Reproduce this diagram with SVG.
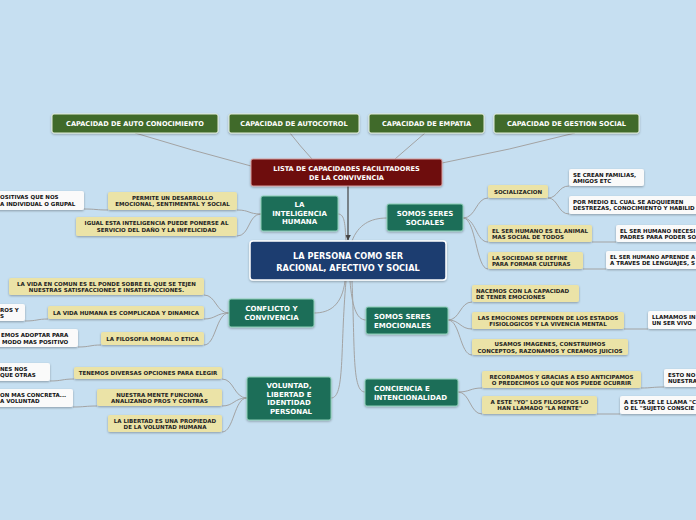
<svg xmlns="http://www.w3.org/2000/svg" width="696" height="520" viewBox="0 0 696 520">
<defs>
<filter id="sh" x="-10%" y="-20%" width="120%" height="150%">
<feDropShadow dx="0" dy="1" stdDeviation="0.8" flood-color="#000" flood-opacity="0.3"/>
</filter>
<marker id="arr" viewBox="0 0 10 10" refX="9" refY="5" markerWidth="5" markerHeight="5" orient="auto">
<path d="M0,0 L10,5 L0,10 z" fill="#444"/>
</marker>
<style>
text{font-family:"DejaVu Sans","Verdana",sans-serif;font-weight:bold;}
.top rect{fill:#3f6b2b;stroke:#e6efdc;stroke-width:1;filter:url(#sh);}
.top text{fill:#fff;font-size:6.6px;text-anchor:middle;}
.red rect{fill:#6e0b0b;stroke:#d9a0a0;stroke-width:1;filter:url(#sh);}
.red text{fill:#fff;font-size:6.6px;text-anchor:middle;}
.ctr rect{fill:#1b3e6f;stroke:#fff;stroke-width:1.5;filter:url(#sh);}
.ctr text{fill:#fff;font-size:8.2px;text-anchor:middle;}
.br rect{fill:#1c6e59;stroke:#8fd0b8;stroke-width:1;filter:url(#sh);}
.br text{fill:#fff;font-size:7px;text-anchor:middle;}
.br text.l{text-anchor:start;}
.lf rect{fill:#ebe3a7;filter:url(#sh);}
.lf text{fill:#222;font-size:5.5px;text-anchor:middle;}
.lf text.l{text-anchor:start;}
.wh rect{fill:#fafafa;filter:url(#sh);}
.wh text{fill:#111;font-size:5.5px;text-anchor:start;}
.con path{fill:none;stroke:#a3a3a3;stroke-width:1;}
</style>
</defs>
<rect x="0" y="0" width="696" height="520" fill="#c6dff1"/>

<g id="connectors" class="con">
<path d="M135 133 Q190 150 251 166"/>
<path d="M290 133 Q300 146 312 159"/>
<path d="M425 133 Q410 146 395 159"/>
<path d="M575 133 Q510 150 442 163"/>
<path d="M348 186 L348 240" style="stroke:#444;stroke-width:1.2" marker-end="url(#arr)"/>
<path d="M346 241 C345 225 345 214 338 214"/>
<path d="M352 241 C358 225 370 218 387 218"/>
<path d="M345 281 C342 305 330 313 314 313"/>
<path d="M350 281 C352 305 356 320 366 320"/>
<path d="M346 281 C340 350 345 398 331 398"/>
<path d="M352 281 C355 350 352 392 365 392"/>
<path d="M261 214 C248 214 250 210 237 210"/>
<path d="M261 214 C248 214 250 236 237 236"/>
<path d="M108 210 C96 210 96 209 84 209"/>
<path d="M463 218 C476 218 476 198 488 198"/>
<path d="M463 218 C476 218 476 242 488 242"/>
<path d="M463 218 C476 218 476 269 488 269"/>
<path d="M548 198 C558 198 558 186 569 186"/>
<path d="M548 198 C558 198 558 214 569 214"/>
<path d="M592 242 L616 242"/>
<path d="M583 269 L606 269"/>
<path d="M229 313 C216 313 216 295 204 295"/>
<path d="M229 313 C216 313 216 319 204 319"/>
<path d="M229 313 C216 313 216 345 204 345"/>
<path d="M48 319 C37 319 37 321 25 321"/>
<path d="M101 345 C90 345 90 347 78 347"/>
<path d="M448 320 C460 320 460 302 472 302"/>
<path d="M448 320 C460 320 460 329 472 329"/>
<path d="M448 320 C460 320 460 355 472 355"/>
<path d="M624 329 L648 329"/>
<path d="M247 398 C234 398 234 379 222 379"/>
<path d="M247 398 C234 398 234 406 222 406"/>
<path d="M247 398 C234 398 234 432 222 432"/>
<path d="M74 379 C62 379 62 381 50 381"/>
<path d="M97 406 C85 406 85 407 73 407"/>
<path d="M458 392 C470 392 470 388 482 388"/>
<path d="M458 392 C470 392 470 414 482 414"/>
<path d="M641 388 C652 388 652 387 664 387"/>
<path d="M597 414 L620 414"/>
</g>

<g id="cap-auto" class="top"><rect x="52" y="114" width="166" height="19" rx="2"/><text x="135" y="126">CAPACIDAD DE AUTO CONOCIMIENTO</text></g>
<g id="cap-autocontrol" class="top"><rect x="229" y="114" width="130" height="19" rx="2"/><text x="294" y="126">CAPACIDAD DE AUTOCOTROL</text></g>
<g id="cap-empatia" class="top"><rect x="369" y="114" width="115" height="19" rx="2"/><text x="426.5" y="126">CAPACIDAD DE EMPATIA</text></g>
<g id="cap-gestion" class="top"><rect x="494" y="114" width="145" height="19" rx="2"/><text x="566.5" y="126">CAPACIDAD DE GESTION SOCIAL</text></g>

<g id="lista" class="red"><rect x="251" y="159" width="191" height="27" rx="2"/><text x="346.5" y="171">LISTA DE CAPACIDADES FACILITADORES</text><text x="346.5" y="180">DE LA CONVIVENCIA</text></g>

<g id="central" class="ctr"><rect x="250" y="241" width="196" height="39" rx="3"/><text x="348" y="258.5">LA PERSONA COMO SER</text><text x="348" y="270.5">RACIONAL, AFECTIVO Y SOCIAL</text></g>

<g id="inteligencia" class="br"><rect x="261" y="196" width="77" height="35" rx="2"/><text x="299.5" y="207">LA</text><text x="299.5" y="215.5">INTELIGENCIA</text><text x="299.5" y="224">HUMANA</text></g>
<g id="sociales" class="br"><rect x="387" y="204" width="76" height="27" rx="2"/><text x="425" y="215.5">SOMOS SERES</text><text x="425" y="224.5">SOCIALES</text></g>
<g id="conflicto" class="br"><rect x="229" y="299" width="85" height="28" rx="2"/><text x="271.5" y="311">CONFLICTO Y</text><text x="271.5" y="320">CONVIVENCIA</text></g>
<g id="emocionales" class="br"><rect x="366" y="307" width="82" height="27" rx="2"/><text class="l" x="374" y="318.5">SOMOS SERES</text><text class="l" x="374" y="327.5">EMOCIONALES</text></g>
<g id="voluntad" class="br"><rect x="247" y="377" width="84" height="43" rx="2"/><text x="289" y="388">VOLUNTAD,</text><text x="289" y="396.5">LIBERTAD E</text><text x="289" y="405">IDENTIDAD</text><text x="291" y="414">PERSONAL</text></g>
<g id="conciencia" class="br"><rect x="365" y="379" width="93" height="27" rx="2"/><text class="l" x="374" y="390.5">CONCIENCIA E</text><text class="l" x="374" y="399.5">INTENCIONALIDAD</text></g>

<g id="permite" class="lf"><rect x="108" y="192" width="129" height="18" rx="2"/><text x="172.5" y="199.5">PERMITE UN DESARROLLO</text><text x="172.5" y="206">EMOCIONAL, SENTIMENTAL Y SOCIAL</text></g>
<g id="igual" class="lf"><rect x="76" y="217" width="161" height="19" rx="2"/><text x="156.5" y="225">IGUAL ESTA INTELIGENCIA PUEDE PONERSE AL</text><text x="156.5" y="232">SERVICIO DEL DAÑO Y LA INFELICIDAD</text></g>
<g id="w-positivas" class="wh"><rect x="-10" y="191" width="94" height="19" rx="2"/><text x="0" y="198.5">OSITIVAS QUE NOS</text><text x="0" y="205.5">A INDIVIDUAL O GRUPAL</text></g>

<g id="socializacion" class="lf"><rect x="488" y="185" width="60" height="13" rx="2"/><text x="518" y="193.5">SOCIALIZACION</text></g>
<g id="w-familias" class="wh"><rect x="569" y="169" width="75" height="17" rx="2"/><text x="573" y="176.5">SE CREAN FAMILIAS,</text><text x="573" y="183">AMIGOS ETC</text></g>
<g id="w-pormedio" class="wh"><rect x="569" y="196" width="135" height="18" rx="2"/><text x="573" y="203.5">POR MEDIO EL CUAL SE ADQUIEREN</text><text x="573" y="210">DESTREZAS, CONOCIMIENTO Y HABILID</text></g>
<g id="animal" class="lf"><rect x="488" y="225" width="104" height="17" rx="2"/><text class="l" x="492" y="232.5">EL SER HUMANO ES EL ANIMAL</text><text class="l" x="492" y="239">MAS SOCIAL DE TODOS</text></g>
<g id="w-necesita" class="wh"><rect x="616" y="225" width="90" height="17" rx="2"/><text x="620" y="232.5">EL SER HUMANO NECESI</text><text x="620" y="239">PADRES PARA PODER SO</text></g>
<g id="sociedad" class="lf"><rect x="488" y="252" width="95" height="17" rx="2"/><text class="l" x="492" y="259.5">LA SOCIEDAD SE DEFINE</text><text class="l" x="492" y="266">PARA FORMAR CULTURAS</text></g>
<g id="w-aprende" class="wh"><rect x="606" y="251" width="100" height="18" rx="2"/><text x="610" y="258.5" textLength="85" lengthAdjust="spacingAndGlyphs">EL SER HUMANO APRENDE A</text><text x="610" y="265" textLength="85" lengthAdjust="spacingAndGlyphs">A TRAVES DE LENGUAJES, S</text></g>

<g id="vidacomun" class="lf"><rect x="9" y="278" width="195" height="17" rx="2"/><text x="106.5" y="285.5">LA VIDA EN COMUN ES EL PONDE SOBRE EL QUE SE TEJEN</text><text x="106.5" y="292">NUESTRAS SATISFACCIONES E INSATISFACCIONES.</text></g>
<g id="vidahumana" class="lf"><rect x="48" y="306" width="156" height="13" rx="2"/><text x="126" y="314.5">LA VIDA HUMANA ES COMPLICADA Y DINAMICA</text></g>
<g id="w-ros" class="wh"><rect x="-10" y="304" width="35" height="17" rx="2"/><text x="0" y="311.5">ROS Y</text><text x="0" y="318">S</text></g>
<g id="filosofia" class="lf"><rect x="101" y="332" width="103" height="13" rx="2"/><text x="152.5" y="340.5">LA FILOSOFIA MORAL O ETICA</text></g>
<g id="w-adoptar" class="wh"><rect x="-10" y="329" width="88" height="18" rx="2"/><text x="1" y="336.5">EMOS ADOPTAR PARA</text><text x="2" y="343.5">MODO MAS POSITIVO</text></g>

<g id="nacemos" class="lf"><rect x="472" y="285" width="107" height="17" rx="2"/><text class="l" x="476" y="292.5">NACEMOS CON LA CAPACIDAD</text><text class="l" x="476" y="299">DE TENER EMOCIONES</text></g>
<g id="emociones" class="lf"><rect x="472" y="312" width="152" height="17" rx="2"/><text x="548" y="319.5">LAS EMOCIONES DEPENDEN DE LOS ESTADOS</text><text x="548" y="326">FISIOLOGICOS Y LA VIVENCIA MENTAL</text></g>
<g id="w-llamamos" class="wh"><rect x="648" y="311" width="58" height="18" rx="2"/><text x="652" y="318.5">LLAMAMOS IN</text><text x="652" y="325">UN SER VIVO</text></g>
<g id="imagenes" class="lf"><rect x="472" y="339" width="156" height="16" rx="2"/><text x="550" y="346">USAMOS IMAGENES, CONSTRUIMOS</text><text x="550" y="352.5">CONCEPTOS, RAZONAMOS Y CREAMOS JUICIOS</text></g>

<g id="opciones" class="lf"><rect x="74" y="367" width="148" height="12" rx="2"/><text x="148" y="375">TENEMOS DIVERSAS OPCIONES PARA ELEGIR</text></g>
<g id="w-nes" class="wh"><rect x="-10" y="363" width="60" height="18" rx="2"/><text x="0" y="370.5">NES NOS</text><text x="0" y="377">QUE OTRAS</text></g>
<g id="mente" class="lf"><rect x="97" y="389" width="125" height="17" rx="2"/><text x="159.5" y="396.5">NUESTRA MENTE FUNCIONA</text><text x="159.5" y="403">ANALIZANDO PROS Y CONTRAS</text></g>
<g id="w-concreta" class="wh"><rect x="-10" y="389" width="83" height="18" rx="2"/><text x="0" y="396.5">ON MAS CONCRETA...</text><text x="0" y="403">A VOLUNTAD</text></g>
<g id="libertad" class="lf"><rect x="108" y="415" width="114" height="17" rx="2"/><text x="165" y="422.5">LA LIBERTAD ES UNA PROPIEDAD</text><text x="165" y="429">DE LA VOLUNTAD HUMANA</text></g>

<g id="recordamos" class="lf"><rect x="482" y="371" width="159" height="17" rx="2"/><text x="561.5" y="378.5">RECORDAMOS Y GRACIAS A ESO ANTICIPAMOS</text><text x="561.5" y="385">O PREDECIMOS LO QUE NOS PUEDE OCURRIR</text></g>
<g id="w-estono" class="wh"><rect x="664" y="369" width="42" height="18" rx="2"/><text x="668" y="376.5">ESTO NO</text><text x="668" y="383">NUESTRA</text></g>
<g id="yo" class="lf"><rect x="482" y="396" width="115" height="18" rx="2"/><text x="539.5" y="403.5">A ESTE "YO" LOS FILOSOFOS LO</text><text x="539.5" y="410">HAN LLAMADO "LA MENTE"</text></g>
<g id="w-estase" class="wh"><rect x="620" y="396" width="86" height="18" rx="2"/><text x="624" y="403.5">A ESTA SE LE LLAMA "C</text><text x="624" y="410">O EL "SUJETO CONSCIE</text></g>
</svg>
